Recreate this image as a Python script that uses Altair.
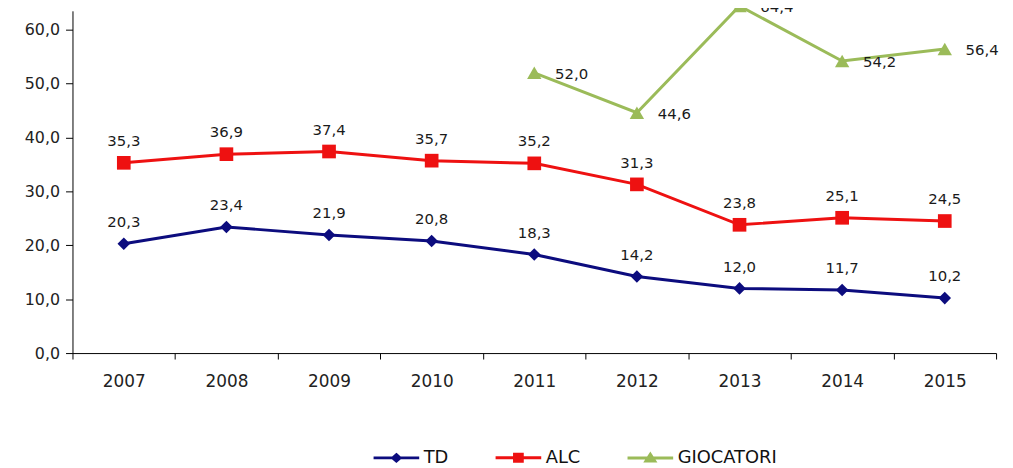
import altair as alt
import pandas as pd

years = ["2007", "2008", "2009", "2010", "2011", "2012", "2013", "2014", "2015"]
td = [20.3, 23.4, 21.9, 20.8, 18.3, 14.2, 12.0, 11.7, 10.2]
alc = [35.3, 36.9, 37.4, 35.7, 35.2, 31.3, 23.8, 25.1, 24.5]
gio_years = ["2011", "2012", "2013", "2014", "2015"]
gio = [52.0, 44.6, 64.4, 54.2, 56.4]

series = ["TD", "ALC", "GIOCATORI"]
colors = ["#0c0c7e", "#ee1111", "#9bbb59"]
legend_paths = [
    "M-1,0H1M0,-0.14L0.16,0L0,0.14L-0.16,0Z",
    "M-1,0H1M-0.17,-0.15H0.17V0.15H-0.17Z",
    "M-1,0H1M0,-0.16L0.19,0.13H-0.19Z",
]

rows = []
for y, v in zip(years, td):
    rows.append({"year": y, "value": v, "series": "TD"})
for y, v in zip(years, alc):
    rows.append({"year": y, "value": v, "series": "ALC"})
for y, v in zip(gio_years, gio):
    rows.append({"year": y, "value": v, "series": "GIOCATORI"})
df = pd.DataFrame(rows)

FONT = "DejaVu Sans"

x = alt.X(
    "year:O",
    title=None,
    scale=alt.Scale(type="band", paddingInner=0, paddingOuter=0, domain=years),
    axis=alt.Axis(
        labelAngle=0, tickBand="extent", tickSize=6, labelPadding=15,
        labelFontSize=17, labelFont=FONT, labelColor="#222222",
        domainColor="#000000", tickColor="#000000", grid=False,
    ),
)
y = alt.Y(
    "value:Q",
    title=None,
    scale=alt.Scale(domain=[0, 63.5], nice=False, zero=True),
    axis=alt.Axis(
        values=[0, 10, 20, 30, 40, 50, 60],
        labelExpr="replace(format(datum.value, '.1f'), '.', ',')",
        tickSize=7, labelPadding=6, labelFontSize=16, labelFont=FONT,
        labelColor="#222222", domainColor="#000000", tickColor="#000000",
        grid=False,
    ),
)

base = alt.Chart(df).encode(x=x, y=y)

lines = base.mark_line(strokeWidth=3, clip=False).encode(
    color=alt.Color("series:N", scale=alt.Scale(domain=series, range=colors), legend=None),
    detail="series:N",
)

shapes = ["diamond", "square", "triangle-up"]
sizes = [160, 190, 210]
points = []
for s, c, sh, sz in zip(series, colors, shapes, sizes):
    points.append(
        base.transform_filter(alt.datum.series == s).mark_point(
            filled=True, shape=sh, size=sz, color=c, opacity=1, clip=False
        )
    )

lbl = base.transform_calculate(
    label="replace(format(datum.value, '.1f'), '.', ',')"
)
labels_up = lbl.transform_filter(alt.datum.series != "GIOCATORI").mark_text(
    dy=-22, fontSize=15, font=FONT, color="#1a1a1a", align="center", baseline="middle"
).encode(text="label:N")
labels_right = lbl.transform_filter(alt.datum.series == "GIOCATORI").mark_text(
    dx=21, dy=1, fontSize=15, font=FONT, color="#1a1a1a", align="left", baseline="middle", clip=False
).encode(text="label:N")

def legend():
    return alt.Legend(
        title=None, orient="none", direction="horizontal", legendX=302, legendY=426,
        symbolSize=2116, symbolStrokeWidth=3, symbolOpacity=1, labelFont=FONT,
        labelFontSize=18, labelColor="#111111", labelOffset=3, columnPadding=41, padding=0,
    )

legend_layer = base.mark_point(opacity=0, strokeWidth=3).encode(
    fill=alt.Fill("series:N", scale=alt.Scale(domain=series, range=colors), legend=legend()),
    stroke=alt.Stroke("series:N", scale=alt.Scale(domain=series, range=colors), legend=legend()),
    shape=alt.Shape("series:N", scale=alt.Scale(domain=series, range=legend_paths), legend=legend()),
)

chart = alt.layer(legend_layer, lines, *points, labels_up, labels_right).properties(
    width=931,
    height=345,
    autosize=alt.AutoSizeParams(type="none"),
    padding={"left": 65, "top": 1, "right": 9, "bottom": 114},
    background="white",
).configure_view(stroke=None)

chart.save("out.html", embed_options={"renderer": "svg", "actions": False})
